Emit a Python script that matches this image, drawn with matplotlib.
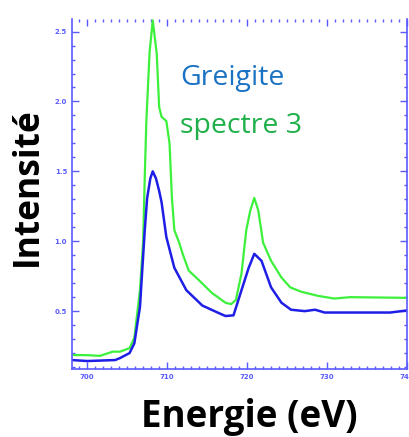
#!/usr/bin/env python3
"""
Fe L-edge spectrum: Greigite reference vs. spectre 3.
"""

import matplotlib
matplotlib.use("Agg")
import matplotlib.pyplot as plt
from matplotlib.ticker import MultipleLocator

# --- Data ---
energy_blue = [698.1, 700.0, 703.5, 704.1, 705.3, 705.9, 706.6, 707.2, 707.5, 707.9, 708.2,
               708.6, 709.0, 709.3, 709.9, 710.9, 712.4, 714.4, 716.5, 717.3, 718.3, 719.3,
               720.2, 720.9, 721.8, 723.0, 724.3, 725.5, 727.2, 728.5, 729.7, 732.9, 737.9, 740.0]
greigite = [0.15, 0.143, 0.15, 0.164, 0.20, 0.27, 0.53, 1.08, 1.31, 1.45, 1.50,
            1.45, 1.36, 1.28, 1.03, 0.81, 0.65, 0.54, 0.485, 0.465, 0.47, 0.65,
            0.81, 0.91, 0.86, 0.67, 0.56, 0.51, 0.50, 0.51, 0.49, 0.49, 0.49, 0.505]

energy_green = [698.1, 700.0, 701.6, 703.2, 704.1, 705.3, 705.9, 706.6, 707.0, 707.2,
                707.4, 707.8, 708.2, 708.7, 709.0, 709.3, 709.9, 710.3, 710.6, 710.9,
                711.5, 712.0, 712.7, 714.0, 715.6, 717.3, 718.0, 718.6, 719.3, 719.9,
                720.4, 720.9, 721.4, 722.0, 723.0, 724.3, 725.4, 726.7, 728.8, 730.9,
                732.9, 740.0]
spectre3 = [0.186, 0.185, 0.18, 0.21, 0.21, 0.235, 0.31, 0.65, 1.0, 1.46,
            1.86, 2.35, 2.58, 2.34, 1.96, 1.89, 1.86, 1.70, 1.31, 1.08,
            0.99, 0.90, 0.79, 0.72, 0.63, 0.56, 0.55, 0.58, 0.77, 1.08,
            1.22, 1.31, 1.22, 0.99, 0.86, 0.74, 0.67, 0.64, 0.61, 0.59,
            0.60, 0.595]

x_ticks = [700, 710, 720, 730, 740]
y_ticks = [0.5, 1.0, 1.5, 2.0, 2.5]

axis_color = '#5a5aff'

fig = plt.figure(figsize=(4.09, 4.37), dpi=100)
ax = fig.add_axes([72 / 409, 1 - 369 / 437, (407 - 72) / 409, (369 - 19) / 437])

ax.plot(energy_green, spectre3, color='#3cf03c', linewidth=1.6)
ax.plot(energy_blue, greigite, color='#1e1ee6', linewidth=1.8)

ax.set_xlim(698.1, 739.6)
ax.set_ylim(0.086, 2.59)

ax.set_xticks(x_ticks)
ax.set_yticks(y_ticks)
ax.xaxis.set_minor_locator(MultipleLocator(1))
ax.yaxis.set_minor_locator(MultipleLocator(0.1))
ax.tick_params(which='both', direction='in', colors=axis_color, top=True, right=True,
               labelsize=5, width=1)
ax.tick_params(which='major', length=5)
ax.tick_params(which='minor', length=2.5)
for lbl in ax.get_xticklabels() + ax.get_yticklabels():
    lbl.set_fontweight('bold')
for side in ['left', 'bottom', 'right']:
    ax.spines[side].set_color(axis_color)
    ax.spines[side].set_linewidth(1.2)
ax.spines['top'].set_visible(False)

# legend-like labels
ax.text((180 - 72) / 335, (369 - 85) / 350, 'Greigite', transform=ax.transAxes,
        color='#1a72c4', fontsize=20.5, family='Open Sans', va='baseline')
ax.text((180 - 72) / 335, (369 - 133) / 350, 'spectre 3', transform=ax.transAxes,
        color='#1fb04a', fontsize=20.5, family='Open Sans', va='baseline')

fig.text(249 / 409, 1 - 427 / 437, 'Energie (eV)', ha='center', va='baseline',
         fontsize=26.5, fontweight='bold', family='Open Sans')
fig.text(28 / 409, 1 - 187 / 437, 'Intensité', ha='center', va='center', rotation=90,
         fontsize=25.5, fontweight='bold', family='Open Sans')

fig.savefig('out.png', dpi=100)
